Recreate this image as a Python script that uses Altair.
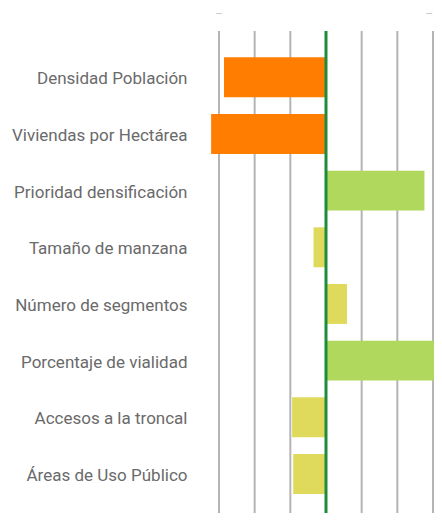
import altair as alt
import pandas as pd

categories = [
    "Densidad Población",
    "Viviendas por Hectárea",
    "Prioridad densificación",
    "Tamaño de manzana",
    "Número de segmentos",
    "Porcentaje de vialidad",
    "Accesos a la troncal",
    "Áreas de Uso Público",
]
values = [-2.86, -3.22, 2.76, -0.35, 0.59, 3.3, -0.95, -0.92]
bar_colors = ["#ff7d00", "#ff7d00", "#afd85c", "#e0da5c", "#e0da5c", "#afd85c", "#e0da5c", "#e0da5c"]
grid_values = [-3, -2, -1, 1, 2, 3]
marker_values = [-3, 3]
marker_align = ["center", "right"]

df = pd.DataFrame({"categoria": categories, "valor": values})
grid_df = pd.DataFrame({"x": grid_values})
zero_df = pd.DataFrame({"x": [0]})
marker_df = pd.DataFrame({"x": marker_values, "t": ["–", "–"], "a": marker_align})

font = "Roboto"

x_scale = alt.Scale(domain=[-3.28, 3.028], nice=False, zero=False)

grid = alt.Chart(grid_df).mark_rule(color="#b4b4b4", strokeWidth=2).encode(
    x=alt.X("x:Q", scale=x_scale, axis=None)
)

marker_left = alt.Chart(marker_df).transform_filter("datum.a == 'center'").mark_text(
    color="#cccccc", fontSize=12, font=font, baseline="middle", align="center"
).encode(
    x=alt.X("x:Q", scale=x_scale, axis=None),
    y=alt.value(-17),
    text="t:N",
)

marker_right = alt.Chart(marker_df).transform_filter("datum.a == 'right'").mark_text(
    color="#cccccc", fontSize=12, font=font, baseline="middle", align="right"
).encode(
    x=alt.X("x:Q", scale=x_scale, axis=None),
    y=alt.value(-17),
    text="t:N",
)

bars = alt.Chart(df).mark_bar(clip=True).encode(
    x=alt.X("valor:Q", scale=x_scale, axis=None),
    y=alt.Y(
        "categoria:N",
        sort=categories,
        scale=alt.Scale(paddingInner=0.295, paddingOuter=0.4, align=0.58),
        axis=alt.Axis(
            title=None,
            ticks=False,
            domain=False,
            grid=False,
            labelPadding=22,
            labelFontSize=17,
            labelColor="#6a6a6a",
            labelFont=font,
            labelLimit=300,
            labelOffset=2,
        ),
    ),
    color=alt.Color(
        "categoria:N",
        scale=alt.Scale(domain=categories, range=bar_colors),
        legend=None,
    ),
)

center = alt.Chart(zero_df).mark_rule(color="#1e8c3c", strokeWidth=3).encode(
    x=alt.X("x:Q", scale=x_scale, axis=None)
)

chart = (
    alt.layer(grid, bars, center, marker_left, marker_right)
    .properties(
        width=225,
        height=482,
        padding={"left": 201, "top": 23, "right": 0, "bottom": 0},
        autosize=alt.AutoSizeParams(type="none"),
    )
    .configure_view(stroke=None)
)

chart.save("out.html", embed_options={"renderer": "svg", "actions": False})
